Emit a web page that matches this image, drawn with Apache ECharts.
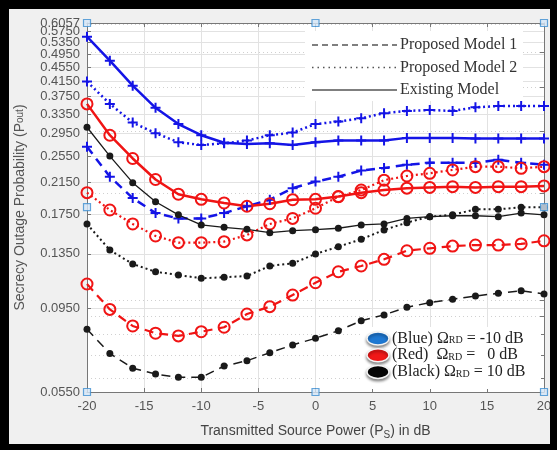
<!DOCTYPE html>
<html>
<head>
<meta charset="utf-8">
<script src="https://cdn.jsdelivr.net/npm/echarts@6/dist/echarts.min.js"></script>
<style>
html,body{margin:0;padding:0;background:#f0f0f0;}
#main{width:557px;height:450px;}
</style>
</head>
<body>
<div id="main"></div>
<script>
// transmitted source power, dB
var powerDb = [-20,-18,-16,-14,-12,-10,-8,-6,-4,-2,0,2,4,6,8,10,12,14,16,18,20];
// y ticks (log axis); the crowded top labels are split over two label sets so none gets dropped
var yTicks = [0.0550,0.0950,0.1350,0.1750,0.2150,0.2550,0.2950,0.3350,0.3750,0.4150,0.4550,0.4950,0.5350,0.5750,0.6057];
var yLabelsA = [0.0550,0.0950,0.1350,0.1750,0.2150,0.2550,0.2950,0.3350,0.3750,0.4150,0.4550,0.4950,0.5750];
var yLabelsB = [0.5350,0.6057];
var yMinorTicks = [0.06,0.07,0.08,0.09,0.1,0.2,0.3,0.4,0.5,0.6];

// blue : Omega_RD = -10 dB
var blueModel1 = [0.271,0.223,0.194,0.176,0.170,0.170,0.176,0.184,0.192,0.207,0.216,0.223,0.232,0.236,0.241,0.244,0.244,0.244,0.249,0.244,0.241];
var blueModel2 = [0.414,0.358,0.317,0.296,0.279,0.274,0.277,0.282,0.292,0.297,0.314,0.319,0.326,0.337,0.342,0.344,0.342,0.350,0.353,0.353,0.353];
var blueExisting = [0.554,0.474,0.403,0.349,0.314,0.292,0.278,0.276,0.277,0.274,0.279,0.282,0.282,0.282,0.287,0.287,0.287,0.286,0.286,0.286,0.286];
// red : Omega_RD = 0 dB
var redModel1 = [0.111,0.0941,0.0845,0.0806,0.0792,0.0814,0.0838,0.0913,0.0958,0.1033,0.1119,0.1202,0.1248,0.1303,0.1378,0.140,0.142,0.143,0.143,0.144,0.147];
var redModel2 = [0.201,0.1796,0.164,0.1517,0.1452,0.1452,0.1462,0.1527,0.164,0.170,0.1816,0.1957,0.2045,0.218,0.224,0.228,0.233,0.238,0.238,0.2355,0.238];
var redExisting = [0.358,0.292,0.251,0.219,0.199,0.1925,0.188,0.184,0.187,0.192,0.1925,0.196,0.201,0.2045,0.207,0.208,0.209,0.208,0.209,0.209,0.210];
// black : Omega_RD = 10 dB
var blackModel1 = [0.0827,0.0707,0.0642,0.0618,0.0605,0.0605,0.0651,0.0674,0.0710,0.0747,0.0780,0.0819,0.0874,0.0908,0.0954,0.0983,0.1005,0.1027,0.1045,0.1063,0.1040];
var blackModel2 = [0.164,0.1384,0.1264,0.1202,0.1177,0.1152,0.116,0.1169,0.1248,0.127,0.1349,0.1415,0.1484,0.1578,0.1654,0.172,0.174,0.1804,0.1804,0.1828,0.1828];
var blackExisting = [0.3075,0.255,0.2145,0.1895,0.174,0.163,0.1605,0.1584,0.155,0.157,0.158,0.1595,0.163,0.164,0.170,0.172,0.173,0.173,0.172,0.176,0.174];

// little square data tips sitting on the axes
var axisTips = [[-20,0.6057],[0,0.6057],[20,0.6057],[-20,0.183],[20,0.183],[-20,0.055],[0,0.055],[20,0.055]];

var BLUE = '#1414e6', RED = '#f01414', BLACK = '#1a1a1a';
var plusPath = 'path://M4,0H6V4H10V6H6V10H4V6H0V4H4Z';
var SANS = 'Arial, "Liberation Sans", sans-serif';

var pairs = function(vals){
    return powerDb.map(function(x,i){ return [x, vals[i]]; });
};

var makeLine = function(name, vals, color, kind, width, mark){
    var sym, symSize, item;
    if(mark=='plus'){
        sym = plusPath; symSize = 10; item = {color: color};
    }else if(mark=='ring'){
        sym = 'circle'; symSize = 11; item = {color: 'rgba(0,0,0,0)', borderColor: color, borderWidth: 2};
    }else{
        sym = 'circle'; symSize = 7; item = {color: color};
    }
    var dash = 'solid';
    if(kind=='dash') dash = [9,6];
    if(kind=='dot') dash = [2,3];
    return {
        name: name, type: 'line', data: pairs(vals),
        symbol: sym, symbolSize: symSize, showSymbol: true,
        itemStyle: item,
        lineStyle: {color: color, width: width, type: dash},
        emphasis: {disabled: true},
        animation: false, z: 3
    };
};

var legendRows = [
    {label: 'Proposed Model 1', dash: [6,4]},
    {label: 'Proposed Model 2', dash: [1.5,4]},
    {label: 'Existing Model', dash: null}
];
var colourRows = [
    {fill: '#1e78d2', text: '(Blue) Ω{s|RD} = -10 dB'},
    {fill: '#f01818', text: '(Red)  Ω{s|RD} =   0 dB'},
    {fill: '#050505', text: '(Black) Ω{s|RD} = 10 dB'}
];

var graphics = [];
// frame
graphics.push({type:'rect', shape:{x:0,y:0,width:557,height:9}, style:{fill:'#000'}, z:100});
graphics.push({type:'rect', shape:{x:0,y:0,width:9,height:450}, style:{fill:'#000'}, z:100});
graphics.push({type:'rect', shape:{x:550,y:0,width:7,height:450}, style:{fill:'#000'}, z:100});
graphics.push({type:'rect', shape:{x:0,y:444,width:557,height:6}, style:{fill:'#000'}, z:100});
// top legend box
graphics.push({type:'rect', shape:{x:305,y:31,width:218,height:70}, style:{fill:'#fff'}, z:10});
legendRows.forEach(function(r,i){
    var y = 45 + i*22.5;
    graphics.push({type:'line', shape:{x1:312,y1:y,x2:397,y2:y},
        style:{stroke:'#555', lineWidth:1.5, lineDash:r.dash}, z:11});
    graphics.push({type:'text', x:400, y:y, style:{text:r.label, fill:'#333',
        font:'16px "Liberation Serif", serif', verticalAlign:'middle'}, z:11});
});
// bottom legend box
graphics.push({type:'rect', shape:{x:360,y:327,width:181,height:62}, style:{fill:'#fff'}, z:10});
colourRows.forEach(function(r,i){
    var y = 338.5 + i*16.7;
    graphics.push({type:'ellipse', shape:{cx:378,cy:y,rx:11,ry:6.5},
        style:{fill:r.fill, stroke:'#f4f4f4', lineWidth:1.5, shadowBlur:3, shadowOffsetY:2, shadowColor:'rgba(0,0,0,0.45)'}, z:11});
    graphics.push({type:'text', x:392, y:y, style:{text:r.text, fill:'#222',
        font:'16px "Liberation Serif", serif', verticalAlign:'middle',
        rich:{s:{fontSize:10, fontFamily:'"Liberation Serif", serif', fill:'#222', padding:[4,0,0,0]}}}, z:11});
});

var logAxis = function(extra){
    var ax = {type: 'log', logBase: 10, min: 0.055, max: 0.60571};
    for(var k in extra) ax[k] = extra[k];
    return ax;
};
var tickFmt = function(v){ return v.toFixed(4); };

var chart = echarts.init(document.getElementById('main'), null, {renderer:'canvas'});
chart.setOption({
    backgroundColor: '#f0f0f0',
    animation: false,
    grid: {left: 87, right: 13, top: 23, bottom: 58, show: true, backgroundColor: '#fff', borderWidth: 0, containLabel: false, outerBoundsMode: 'none'},
    xAxis: [
        {
            type: 'value', position: 'bottom', min: -20, max: 20, interval: 5,
            name: 'Transmitted Source Power (P{s|S}) in dB', nameLocation: 'middle', nameGap: 30,
            nameTextStyle: {color: '#444', fontSize: 14, fontFamily: SANS,
                rich: {s: {fontSize: 10, color: '#444', padding: [8,0,0,0]}}},
            axisLine: {show: true, onZero: false, lineStyle: {color: '#777', width: 1}},
            axisTick: {show: true, inside: true, length: 4, lineStyle: {color: '#777'}},
            axisLabel: {color: '#555', fontSize: 13, margin: 8, fontFamily: SANS},
            splitLine: {show: true, lineStyle: {color: '#e2e2e2', width: 1}}
        },
        {
            type: 'value', position: 'top', min: -20, max: 20, interval: 5,
            axisLine: {show: true, onZero: false, lineStyle: {color: '#777', width: 1}},
            axisTick: {show: true, inside: true, length: 4, lineStyle: {color: '#777'}},
            axisLabel: {show: false}, splitLine: {show: false}
        }
    ],
    yAxis: [
        logAxis({
            position: 'left',
            name: 'Secrecy Outage Probability (P{s|out})', nameLocation: 'middle', nameGap: 60,
            nameTextStyle: {color: '#555', fontSize: 14, fontFamily: SANS,
                rich: {s: {fontSize: 10, color: '#555'}}},
            axisLine: {show: true, onZero: false, lineStyle: {color: '#777', width: 1}},
            axisTick: {show: true, inside: true, length: 4, customValues: yTicks, lineStyle: {color: '#777'}},
            axisLabel: {color: '#555', fontSize: 13, margin: 7, customValues: yLabelsA,
                showMaxLabel: true, showMinLabel: true, fontFamily: SANS, formatter: tickFmt},
            splitLine: {show: true, lineStyle: {color: '#e2e2e2', width: 1}}
        }),
        logAxis({
            position: 'right',
            axisLine: {show: true, onZero: false, lineStyle: {color: '#777', width: 1}},
            axisTick: {show: true, inside: true, length: 4, customValues: yMinorTicks, lineStyle: {color: '#777'}},
            axisLabel: {show: false, customValues: yMinorTicks},
            splitLine: {show: true, lineStyle: {color: '#d0d0d0', width: 1, type: [1,3]}}
        }),
        logAxis({
            position: 'left',
            axisLine: {show: false, onZero: false},
            axisTick: {show: false, customValues: yLabelsB},
            axisLabel: {color: '#555', fontSize: 13, margin: 7, customValues: yLabelsB,
                showMaxLabel: true, showMinLabel: true, fontFamily: SANS, formatter: tickFmt},
            splitLine: {show: false}
        })
    ],
    graphic: graphics,
    series: [
        makeLine('blueExisting', blueExisting, BLUE, 'solid', 2.5, 'plus'),
        makeLine('blueModel2', blueModel2, BLUE, 'dot', 2.5, 'plus'),
        makeLine('blueModel1', blueModel1, BLUE, 'dash', 2.5, 'plus'),
        makeLine('redExisting', redExisting, RED, 'solid', 2.5, 'ring'),
        makeLine('redModel2', redModel2, RED, 'dot', 2.2, 'ring'),
        makeLine('redModel1', redModel1, RED, 'dash', 2.2, 'ring'),
        makeLine('blackExisting', blackExisting, BLACK, 'solid', 1.3, 'dot'),
        makeLine('blackModel2', blackModel2, BLACK, 'dot', 2, 'dot'),
        makeLine('blackModel1', blackModel1, BLACK, 'dash', 1.5, 'dot'),
        {
            type: 'scatter', data: axisTips, symbol: 'rect', symbolSize: 7,
            itemStyle: {color: '#d4e6f7', borderColor: '#3d8fd1', borderWidth: 1.2},
            clip: false, z: 20, silent: true, animation: false
        }
    ]
});
</script>
</body>
</html>
